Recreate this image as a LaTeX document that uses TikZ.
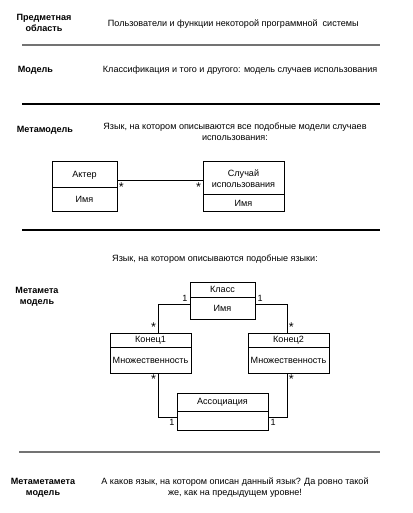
\documentclass[tikz,border=0pt]{standalone}
\usepackage{fontspec}
\setmainfont{Liberation Sans}
\usetikzlibrary{positioning}
\newlength\px
\setlength\px{0.75pt}

\begin{document}
\begin{tikzpicture}[x=0.75pt, y=-0.75pt, line width=0.75pt,
  every node/.style={font=\fontsize{6.8}{8.3}\selectfont},
  level/.style={font=\fontsize{6.8}{8.3}\selectfont\bfseries, align=center},
  cell/.style={draw, outer sep=0pt, inner sep=1pt, align=center},
  mult/.style={inner sep=1.5pt},
  manystar/.style={inner sep=1pt, font=\fontsize{9.5}{10}\selectfont},
  rulegray/.style={line width=1.5pt, black!55},
  ruledark/.style={line width=1.1pt, black}]
  \useasboundingbox (0,0) rectangle (412,513);

  % levels and texts
  \node[level] (subj) at (44,23) {Предметная\\область};
  \node[anchor=west] (subjtext) at (103,24) {Пользователи и функции некоторой программной\ \ системы};
  \draw[rulegray] (22,45) -- (380,45);

  \node[level, anchor=west] (model) at (13,70) {Модель};
  \node[anchor=west] (modeltext) at (98,70) {Классификация и того и другого: модель случаев использования};
  \draw[ruledark] (22,104) -- (380,104);

  \node[level, anchor=west] (meta) at (12,130) {Метамодель};
  \node[align=center] (metatext) at (235,132) {Язык, на котором описываются все подобные модели случаев\\использования:};

  % use case metamodel
  \node[cell, minimum width=65\px, minimum height=26\px] (akter) at (84.5,175) {Актер};
  \node[cell, minimum width=65\px, minimum height=23\px, below=0pt of akter] (akterAttr) {Имя};
  \node[cell, minimum width=81\px, minimum height=33\px] (sluchai) at (243.5,178.5) {Случай\\использования};
  \node[cell, minimum width=81\px, minimum height=16\px, below=0pt of sluchai] (sluchaiAttr) {Имя};
  \draw (akter.east |- 0,181) -- (sluchai.west |- 0,181)
    node[manystar, pos=0, anchor=north west] {*}
    node[manystar, pos=1, anchor=north east] {*};
  \draw[ruledark] (22,230) -- (380,230);

  \node (metametatext) at (215,259) {Язык, на котором описываются подобные языки:};
  \node[level] (metameta) at (37,297) {Метамета\\модель};

  % meta-metamodel
  \node[cell, minimum width=65\px, minimum height=15\px] (klass) at (222.5,289.5) {Класс};
  \node[cell, minimum width=65\px, minimum height=22\px, below=0pt of klass] (klassAttr) {Имя};
  \node[cell, minimum width=81\px, minimum height=14\px] (konec1) at (150.5,340) {Конец1};
  \node[cell, minimum width=81\px, minimum height=26\px, below=0pt of konec1] (konec1Attr) {Множественность};
  \node[cell, minimum width=81\px, minimum height=14\px] (konec2) at (288.5,340) {Конец2};
  \node[cell, minimum width=81\px, minimum height=26\px, below=0pt of konec2] (konec2Attr) {Множественность};
  \node[cell, minimum width=91\px, minimum height=18\px] (assoc) at (222.5,402) {Ассоциация};
  \node[cell, minimum width=91\px, minimum height=19\px, below=0pt of assoc] (assocAttr) {};

  \draw ([yshift=4\px]klassAttr.west) -| ([xshift=7.5\px]konec1.north)
    node[mult, pos=0, anchor=south east] {1}
    node[manystar, pos=1, anchor=south east] {*};
  \draw ([yshift=4\px]klassAttr.east) -| ([xshift=-1.5\px]konec2.north)
    node[mult, pos=0, anchor=south west] {1}
    node[manystar, pos=1, anchor=south west] {*};
  \draw ([xshift=7.5\px]konec1Attr.south) |- ([yshift=3.5\px]assocAttr.west)
    node[manystar, pos=0, anchor=north east] {*}
    node[mult, pos=1, anchor=north east] {1};
  \draw ([xshift=-1.5\px]konec2Attr.south) |- ([yshift=3.5\px]assocAttr.east)
    node[manystar, pos=0, anchor=north west] {*}
    node[mult, pos=1, anchor=north west] {1};
  \draw[rulegray] (19,452) -- (380,452);

  \node[level] (metametameta) at (43,488) {Метаметамета\\модель};
  \node[align=center] (lasttext) at (235,488) {А каков язык, на котором описан данный язык? Да ровно такой\\же, как на предыдущем уровне!};
\end{tikzpicture}
\end{document}
